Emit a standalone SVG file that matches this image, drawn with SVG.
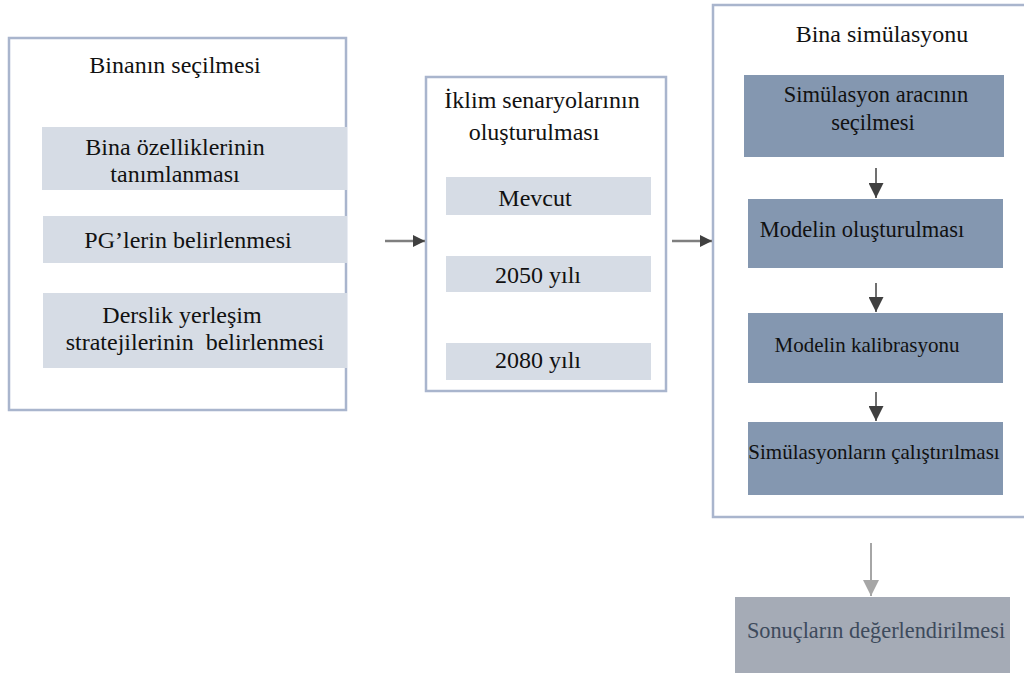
<svg xmlns="http://www.w3.org/2000/svg" width="1024" height="674" viewBox="0 0 1024 674">
<defs>
<style>
.frame{fill:#ffffff;stroke:#a9b5cd;stroke-width:2.5}
.light{fill:#d6dce5}
.dark{fill:#8497b0}
.t{fill:#111111;text-anchor:middle}
.conn{stroke:#7f7f7f;stroke-width:2.5;fill:none}
.vconn{stroke:#404040;stroke-width:1.5;fill:none}
</style>
<marker id="ah" viewBox="0 0 10 10" refX="10" refY="5" markerWidth="5" markerHeight="5" markerUnits="strokeWidth" orient="auto">
<path d="M0,0 L10,5 L0,10 z" fill="#404040"/>
</marker>
<marker id="ahv" viewBox="0 0 10 10" refX="10" refY="5" markerWidth="10" markerHeight="10" markerUnits="strokeWidth" orient="auto">
<path d="M0,0 L10,5 L0,10 z" fill="#404040"/>
</marker>
<marker id="ahg" viewBox="0 0 10 10" refX="10" refY="5" markerWidth="8" markerHeight="8" markerUnits="strokeWidth" orient="auto">
<path d="M0,0 L10,5 L0,10 z" fill="#a6a6a6"/>
</marker>
</defs>
<rect width="1024" height="674" fill="#ffffff"/>

<g font-family="Liberation Serif, Times New Roman, serif">
<g id="bina-secimi">
<rect class="frame" x="9" y="38" width="337" height="372"/>
<text class="t" x="175" y="73" font-size="24">Binanın seçilmesi</text>
<rect class="light" x="42" y="127" width="305" height="63"/>
<text class="t" x="175" y="155" font-size="24">Bina özelliklerinin</text>
<text class="t" x="175" y="182" font-size="24">tanımlanması</text>
<rect class="light" x="43" y="216" width="304" height="47"/>
<text class="t" x="188" y="248" font-size="24">PG’lerin belirlenmesi</text>
<rect class="light" x="43" y="293" width="304" height="75"/>
<text class="t" x="182" y="323" font-size="24">Derslik yerleşim</text>
<text class="t" x="195" y="350" font-size="24" xml:space="preserve">stratejilerinin  belirlenmesi</text>
</g>

<g id="iklim">
<rect class="frame" x="426" y="77" width="240" height="314"/>
<text class="t" x="542" y="108" font-size="24">İklim senaryolarının</text>
<text class="t" x="534" y="140" font-size="24">oluşturulması</text>
<rect class="light" x="446" y="177" width="205" height="38"/>
<text class="t" x="535" y="206" font-size="24">Mevcut</text>
<rect class="light" x="446" y="256" width="205" height="36"/>
<text class="t" x="538" y="283" font-size="24">2050 yılı</text>
<rect class="light" x="446" y="343" width="205" height="37"/>
<text class="t" x="538" y="368" font-size="24">2080 yılı</text>
</g>

<g id="simulasyon">
<rect class="frame" x="713" y="5" width="330" height="512"/>
<text class="t" x="882" y="42" font-size="24">Bina simülasyonu</text>
<g id="sim-arac">
<rect class="dark" x="744" y="75" width="260" height="82"/>
<text class="t" x="876" y="102" font-size="22.5">Simülasyon aracının</text>
<text class="t" x="873" y="130" font-size="22.5">seçilmesi</text>
</g>
<g id="model-olustur">
<rect class="dark" x="748" y="199" width="255" height="69"/>
<text class="t" x="862" y="237" font-size="22.5">Modelin oluşturulması</text>
</g>
<g id="model-kalib">
<rect class="dark" x="748" y="313" width="255" height="70"/>
<text class="t" x="867" y="352" font-size="21">Modelin kalibrasyonu</text>
</g>
<g id="sim-calis">
<rect class="dark" x="748" y="422" width="255" height="73"/>
<text class="t" x="874" y="459" font-size="21">Simülasyonların çalıştırılması</text>
</g>
</g>

<g id="sonuc">
<rect x="735" y="597" width="275" height="76" fill="#a5abb6"/>
<text class="t" x="876" y="638" font-size="22.3" style="fill:#3d4a5c">Sonuçların değerlendirilmesi</text>
</g>
</g>

<g id="connectors">
<line class="conn" x1="385" y1="241" x2="425" y2="241" marker-end="url(#ah)"/>
<line class="conn" x1="672" y1="241" x2="712" y2="241" marker-end="url(#ah)"/>
<line class="vconn" x1="876" y1="168" x2="876" y2="198" marker-end="url(#ahv)"/>
<line class="vconn" x1="876" y1="283" x2="876" y2="312" marker-end="url(#ahv)"/>
<line class="vconn" x1="876" y1="392" x2="876" y2="421" marker-end="url(#ahv)"/>
<line x1="871" y1="543" x2="871" y2="596" stroke="#a6a6a6" stroke-width="2" marker-end="url(#ahg)"/>
</g>
</svg>
